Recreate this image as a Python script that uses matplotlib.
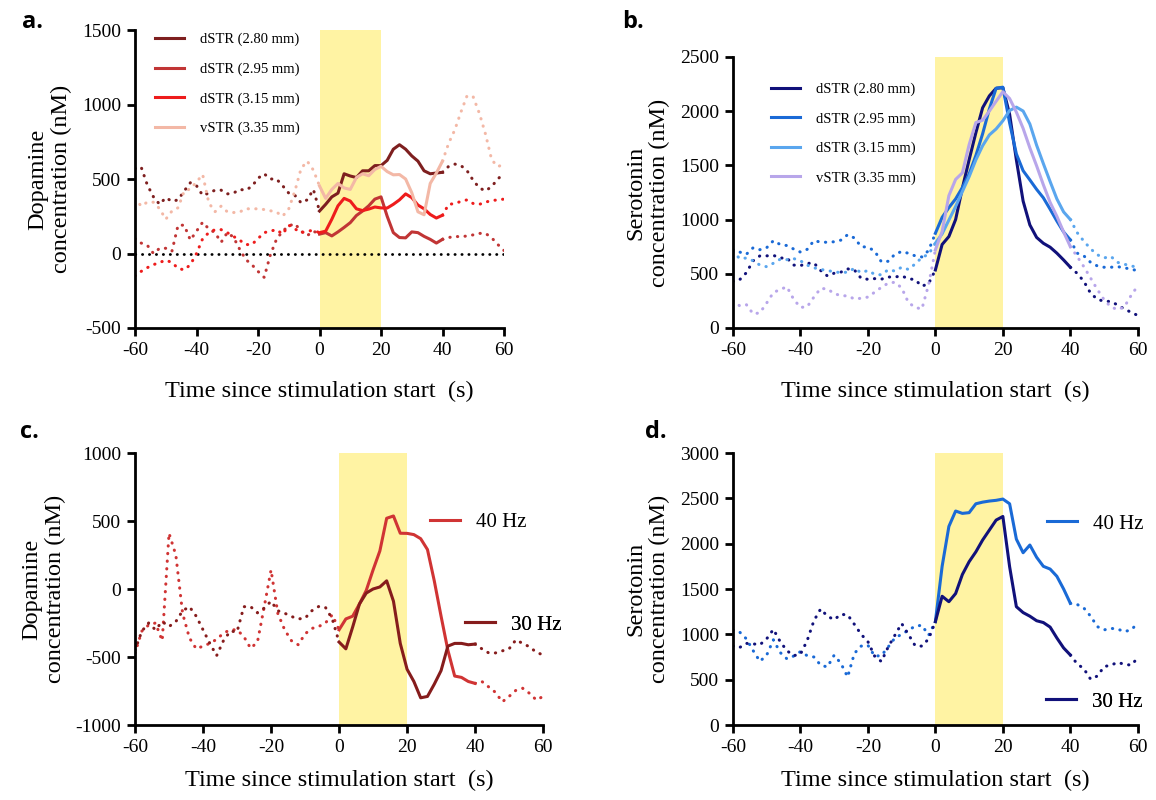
import numpy as np
import matplotlib
matplotlib.use("Agg")
import matplotlib.pyplot as plt

plt.rcParams['font.family'] = ['Liberation Serif', 'DejaVu Serif']
plt.rcParams['axes.unicode_minus'] = False

# time axis (s), shared by every trace
t = list(range(-60, 61, 2))

# --- a. dopamine, depth series
da_280 = [570, 580, 460, 380, 330, 375, 350, 360, 420, 475, 455, 390, 405, 425, 425, 400,
          405, 430, 425, 450, 505, 535, 500, 500, 455, 405, 390, 340, 360, 430, 285,
          330, 380, 405, 535, 520, 510, 555, 555, 590, 590, 625, 700, 730, 700, 655,
          620, 555, 535, 540, 545, 585, 600, 590, 555, 490, 440, 420, 450, 500, 540]
da_295 = [100, 70, 55, 0, 35, 35, 15, 190, 190, 90, 150, 210, 165, 140, 75, 140,
          110, 30, -40, -75, -120, -160, -10, 95, 150, 185, 200, 150, 120, 150, 130,
          140, 118, 145, 175, 207, 255, 285, 320, 365, 380, 250, 140, 107, 105, 145,
          140, 115, 95, 70, 95, 107, 115, 112, 118, 125, 135, 135, 105, 60, 20]
da_315 = [-150, -120, -95, -75, -60, -45, -60, -100, -110, -75, 0, 100, 140, 160, 160, 140,
          115, 90, 60, 60, 100, 140, 150, 160, 130, 190, 165, 140, 150, 155, 140,
          150, 230, 320, 370, 352, 300, 288, 298, 312, 306, 305, 330, 360, 400, 375,
          325, 300, 262, 238, 257, 330, 335, 350, 360, 335, 330, 345, 355, 360, 365]
da_335 = [370, 318, 345, 344, 300, 230, 285, 307, 420, 433, 480, 530, 340, 280, 318, 280,
          275, 278, 300, 300, 300, 295, 287, 278, 250, 300, 420, 570, 620, 560, 453,
          370, 430, 470, 440, 430, 510, 535, 522, 564, 585, 550, 528, 530, 500, 408,
          280, 260, 470, 540, 620, 740, 830, 950, 1060, 1050, 940, 800, 628, 583, 600]

# --- b. serotonin, depth series
se_280 = [430, 445, 510, 620, 665, 665, 670, 645, 645, 580, 575, 595, 600, 530, 480, 505,
          515, 545, 535, 458, 449, 455, 450, 470, 470, 480, 455, 445, 385, 410, 535,
          770, 843, 1000, 1290, 1550, 1800, 2030, 2140, 2210, 2215, 1970, 1550, 1170, 950, 835,
          781, 745, 690, 627, 560, 504, 430, 320, 265, 246, 245, 212, 175, 145, 115]
se_295 = [722, 700, 680, 740, 722, 740, 805, 770, 760, 728, 700, 725, 805, 792, 790, 795,
          810, 860, 830, 750, 745, 710, 610, 615, 680, 705, 689, 665, 655, 715, 873,
          1020, 1110, 1190, 1295, 1420, 1590, 1790, 2020, 2210, 2220, 1890, 1605, 1450, 1365, 1278,
          1200, 1095, 986, 885, 812, 690, 665, 605, 572, 560, 560, 565, 556, 540, 530]
se_315 = [707, 640, 645, 620, 580, 565, 597, 634, 630, 640, 620, 580, 555, 540, 530, 518,
          510, 515, 550, 510, 530, 495, 490, 537, 525, 560, 540, 590, 650, 680, 781,
          868, 995, 1120, 1258, 1395, 1550, 1680, 1780, 1835, 1910, 2005, 2036, 2000, 1880, 1685,
          1515, 1350, 1190, 1070, 1000, 880, 800, 730, 675, 646, 660, 605, 588, 572, 560]
se_335 = [250, 205, 215, 130, 140, 230, 327, 355, 380, 265, 190, 195, 285, 365, 360, 318,
          298, 296, 268, 274, 285, 330, 375, 413, 422, 370, 235, 190, 175, 400, 720,
          890, 1220, 1370, 1430, 1690, 1894, 1915, 2000, 2090, 2178, 2115, 1990, 1840, 1660, 1495,
          1320, 1158, 1030, 885, 750, 660, 565, 460, 355, 260, 195, 169, 195, 300, 390]

# --- c. dopamine, frequency
da_40hz = [-470, -310, -265, -250, -380, 410, 250, -180, -360, -440, -420, -400, -370, -325, -300, -300,
           -350, -436, -390, -130, 140, -180, -300, -380, -410, -330, -290, -276, -250, -190, -300,
           -220, -200, -110, -10, 140, 280, 520, 537, 410, 409, 400, 370, 290, 60, -200,
           -450, -640, -650, -680, -694, -680, -720, -760, -830, -790, -745, -730, -767, -816, -790]
da_30hz = [-450, -310, -250, -300, -240, -276, -240, -160, -130, -200, -300, -400, -490, -380, -310, -315,
           -130, -130, -175, -140, -90, -160, -178, -202, -220, -215, -160, -129, -135, -220, -390,
           -440, -280, -110, -30, 0, 15, 60, -90, -400, -590, -680, -800, -790, -700, -600,
           -420, -400, -400, -410, -405, -440, -470, -470, -455, -440, -374, -400, -425, -465, -485]

# --- d. serotonin, frequency
se_40hz = [1048, 1025, 950, 820, 702, 770, 940, 800, 730, 760, 809, 765, 750, 660, 640, 770,
           680, 530, 790, 870, 880, 760, 765, 860, 960, 1000, 1045, 1090, 1100, 990, 1140,
           1750, 2190, 2360, 2334, 2342, 2440, 2458, 2470, 2478, 2492, 2440, 2050, 1900, 1985, 1850,
           1750, 1720, 1640, 1500, 1342, 1330, 1290, 1200, 1085, 1049, 1066, 1058, 1030, 1049, 1123]
se_30hz = [871, 855, 900, 895, 885, 950, 1055, 920, 820, 765, 780, 930, 1150, 1280, 1200, 1162,
           1220, 1215, 1110, 1000, 920, 760, 700, 860, 990, 1120, 1000, 875, 870, 950, 1140,
           1420, 1360, 1450, 1660, 1801, 1910, 2040, 2150, 2260, 2300, 1746, 1305, 1240, 1200, 1150,
           1130, 1080, 960, 850, 772, 675, 620, 505, 540, 644, 660, 690, 670, 660, 740]

depth_labels = ['dSTR (2.80 mm)', 'dSTR (2.95 mm)', 'dSTR (3.15 mm)', 'vSTR (3.35 mm)']
freq_labels = ['40 Hz', '30 Hz']

red_cols = ['#7e1f1f', '#c13535', '#ee1c1c', '#f3b8a6']
blue_cols = ['#11117a', '#1a6ad6', '#5aa6ee', '#b8a6ea']
c_cols = ['#d03434', '#861c1c']
d_cols = ['#1a6ad6', '#11117a']

DOT = (0, (0.1, 2.4))


def trace(ax, y, color, lw=2.2, label=None):
    tt = np.array(t)
    yy = np.array(y)
    pre = tt <= 0
    stim = (tt >= 0) & (tt <= 40)
    post = tt >= 40
    ax.plot(tt[pre], yy[pre], ls=DOT, color=color, lw=lw, dash_capstyle='round')
    h, = ax.plot(tt[stim], yy[stim], color=color, lw=lw, label=label)
    ax.plot(tt[post], yy[post], ls=DOT, color=color, lw=lw, dash_capstyle='round')
    return h


def style(ax, ylim, ystep, ylabel, xpad):
    ax.axvspan(0, 20, color='#fff3a3', zorder=0, lw=0)
    ax.set_xlim(-60, 60)
    ax.set_ylim(*ylim)
    ax.set_xticks(range(-60, 61, 20))
    ax.set_yticks(np.arange(ylim[0], ylim[1] + 1, ystep))
    for s in ['top', 'right']:
        ax.spines[s].set_visible(False)
    for s in ['left', 'bottom']:
        ax.spines[s].set_linewidth(2)
    ax.tick_params(width=2, length=6, labelsize=14, direction='out', pad=4)
    ax.set_xlabel('Time since stimulation start  (s)', fontsize=17.5, labelpad=xpad)
    ax.set_ylabel(ylabel, fontsize=17.5, linespacing=1.15, labelpad=7)


def tag(ax, h, text, x, y):
    leg = ax.legend([h], [text], loc='center left', bbox_to_anchor=(x, y), frameon=False,
                    fontsize=15, handlelength=1.45, handletextpad=0.75,
                    borderpad=0, borderaxespad=0)
    ax.add_artist(leg)


fig = plt.figure(figsize=(11.56, 8), dpi=100)
ax_a = fig.add_axes([0.1168, 0.59, 0.3192, 0.3725])
ax_b = fig.add_axes([0.634, 0.59, 0.3503, 0.339])
ax_c = fig.add_axes([0.1168, 0.09375, 0.353, 0.34])
ax_d = fig.add_axes([0.634, 0.09375, 0.3503, 0.34])

# a
ax_a.axhline(0, ls=DOT, color='black', lw=2, dash_capstyle='round', zorder=1)
hs = []
for y, c, lab in zip([da_280, da_295, da_315, da_335], red_cols, depth_labels):
    hs.append(trace(ax_a, y, c, label=lab))
style(ax_a, (-500, 1500), 500, 'Dopamine\nconcentration (nM)', 16)
ax_a.legend(handles=hs, loc='upper left', bbox_to_anchor=(0.054, 0.99), frameon=False,
            fontsize=10.5, handlelength=2.0, labelspacing=1.1, handletextpad=1.1,
            borderpad=0, borderaxespad=0)

# b
hs = []
for y, c, lab in zip([se_280, se_295, se_315, se_335], blue_cols, depth_labels):
    hs.append(trace(ax_b, y, c, label=lab))
style(ax_b, (0, 2500), 500, 'Serotonin\nconcentration (nM)', 16)
ax_b.legend(handles=hs, loc='upper left', bbox_to_anchor=(0.094, 0.905), frameon=False,
            fontsize=10.5, handlelength=2.0, labelspacing=1.1, handletextpad=1.1,
            borderpad=0, borderaxespad=0)

# c
h40 = trace(ax_c, da_40hz, c_cols[0])
h30 = trace(ax_c, da_30hz, c_cols[1])
style(ax_c, (-1000, 1000), 500, 'Dopamine\nconcentration (nM)', 10)
tag(ax_c, h40, freq_labels[0], 0.723, 0.746)
tag(ax_c, h30, freq_labels[1], 0.809, 0.368)

# d
h40 = trace(ax_d, se_40hz, d_cols[0])
h30 = trace(ax_d, se_30hz, d_cols[1])
style(ax_d, (0, 3000), 500, 'Serotonin\nconcentration (nM)', 10)
tag(ax_d, h40, freq_labels[0], 0.775, 0.739)
tag(ax_d, h30, freq_labels[1], 0.773, 0.085)

for x, y, s in [(0.019, 0.972, 'a.'), (0.538, 0.972, 'b.'), (0.017, 0.46, 'c.'), (0.558, 0.46, 'd.')]:
    fig.text(x, y, s, fontsize=17, fontweight='bold', family='Open Sans', va='center')

fig.savefig('out.png', dpi=100)
